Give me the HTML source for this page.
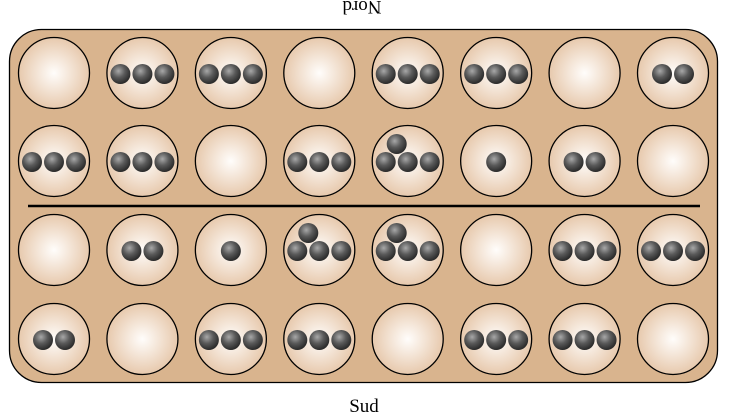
<!DOCTYPE html>
<html><head><meta charset="utf-8"><style>
html,body{margin:0;padding:0;background:#fff;}
svg{display:block;}
text{font-family:"Liberation Serif",serif;font-size:19px;fill:#000;}
</style></head><body>
<svg width="729" height="420" viewBox="0 0 729 420" xmlns="http://www.w3.org/2000/svg">
<defs>
<radialGradient id="pit" cx="50%" cy="50%" r="50%">
<stop offset="0" stop-color="#fffdfb"/>
<stop offset="1" stop-color="#e7c9ad"/>
</radialGradient>
<radialGradient id="ball" cx="40%" cy="35%" r="65%">
<stop offset="0" stop-color="#a8a8a8"/>
<stop offset="0.5" stop-color="#5a5a5a"/>
<stop offset="1" stop-color="#2a2a2a"/>
</radialGradient>
</defs>
<text x="362" y="10" text-anchor="middle" transform="rotate(180 362 5.5)">Nord</text>
<rect x="9.5" y="29.5" width="708" height="353" rx="32" ry="32" fill="#d9b48e" stroke="#000" stroke-width="1.3"/>
<line x1="28" y1="206" x2="700" y2="206" stroke="#000" stroke-width="2.5"/>
<g id="pits"></g>
<text x="364" y="412" text-anchor="middle">Sud</text>
<script>
(function(){
var counts=[[0,3,3,0,3,3,0,2],[3,3,0,3,4,1,2,0],[0,2,1,4,4,0,3,3],[2,0,3,3,0,3,3,0]];
var ys=[73,161,250,339];
var g=document.getElementById('pits');
var ns='http://www.w3.org/2000/svg';
function c(x,y,r,fill,stroke){var e=document.createElementNS(ns,'circle');e.setAttribute('cx',x);e.setAttribute('cy',y);e.setAttribute('r',r);e.setAttribute('fill',fill);if(stroke){e.setAttribute('stroke',stroke);e.setAttribute('stroke-width','1.3');}g.appendChild(e);}
for(var r=0;r<4;r++)for(var k=0;k<8;k++){
var x=54+k*88.43,y=ys[r],n=counts[r][k];
c(x,y,35.5,'url(#pit)','#000');
var b=[];
if(n==1)b=[[0,1]];
if(n==2)b=[[-11,1],[11,1]];
if(n==3)b=[[-22,1],[0,1],[22,1]];
if(n==4)b=[[-11,-17],[-22,1],[0,1],[22,1]];
b.forEach(function(p){c(x+p[0],y+p[1],10,'url(#ball)');});
}
})();
</script>
</svg>
</body></html>
